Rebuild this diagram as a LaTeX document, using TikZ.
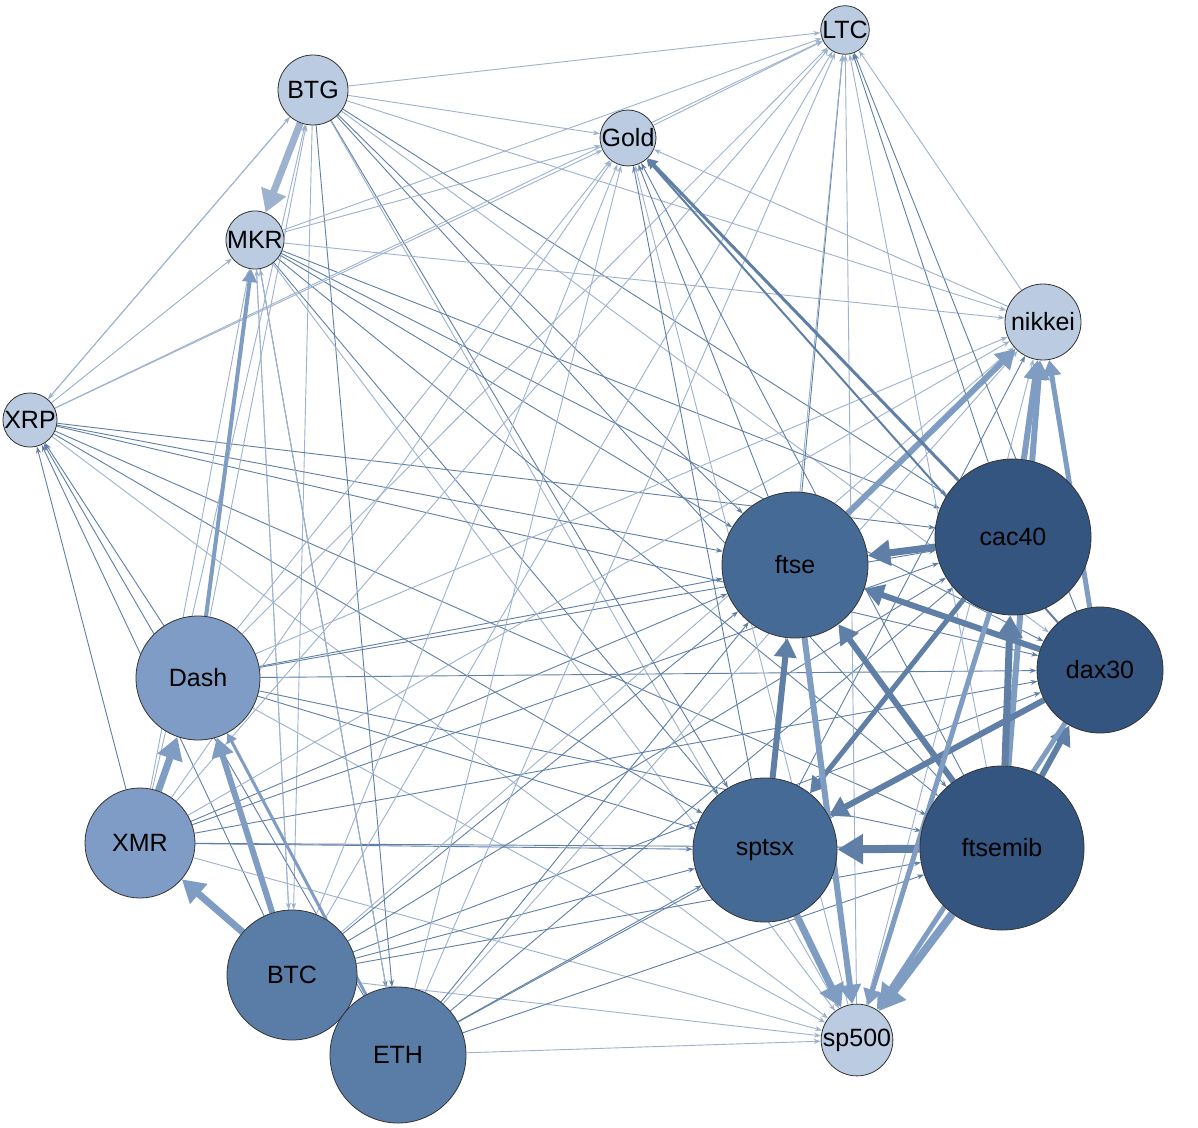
\documentclass[tikz,border=0pt]{standalone}
\usepackage{fontspec}
\setmainfont{Liberation Sans}
\usetikzlibrary{arrows.meta}
\pgfdeclarelayer{bg}\pgfsetlayers{bg,main}
\begin{document}
\begin{tikzpicture}[x=1pt,y=-1pt,
  nd/.style={circle,draw=black!80,line width=0.8pt,inner sep=0pt,font=\fontsize{25}{27}\selectfont},
  sm/.style={nd,fill=smc},
  thin/.style={-{Stealth[length=7pt,width=5pt]},line width=0.9pt}]
\definecolor{smc}{HTML}{BACBE2}
\definecolor{mdc}{HTML}{7E9CC6}
\definecolor{btc}{HTML}{5A7DA8}
\definecolor{ftc}{HTML}{456A95}
\definecolor{dkc}{HTML}{33557F}
\definecolor{e1}{HTML}{9DB2CE}
\definecolor{e2}{HTML}{5F7FA6}
\definecolor{e3}{HTML}{7F9CC2}
\useasboundingbox (0,0) rectangle (1198,1127);
\node[sm,minimum size=30] (LTC) at (845,30) {LTC};
\node[sm,minimum size=70] (BTG) at (313,90) {BTG};
\node[sm,minimum size=40] (Gold) at (628,138) {Gold};
\node[sm,minimum size=56] (MKR) at (255,240) {MKR};
\node[sm,minimum size=76] (nikkei) at (1043,322) {nikkei};
\node[sm,minimum size=40] (XRP) at (30,420) {XRP};
\node[nd,fill=dkc,minimum size=156] (cac40) at (1013,537) {cac40};
\node[nd,fill=ftc,minimum size=146] (ftse) at (795,565) {ftse};
\node[nd,fill=dkc,minimum size=126] (dax30) at (1100,670) {dax30};
\node[nd,fill=mdc,minimum size=124] (Dash) at (198,678) {Dash};
\node[nd,fill=ftc,minimum size=144] (sptsx) at (765,850) {sptsx};
\node[nd,fill=dkc,minimum size=164] (ftsemib) at (1002,848) {ftsemib};
\node[nd,fill=mdc,minimum size=110] (XMR) at (140,843) {XMR};
\node[nd,fill=btc,minimum size=130] (BTC) at (292,975) {BTC};
\node[nd,fill=btc,minimum size=136] (ETH) at (398,1055) {ETH};
\node[sm,minimum size=50] (sp500) at (857,1040) {sp500};
\begin{pgfonlayer}{bg}
\fill[white] (0,0) rectangle (1198,1127);
\foreach \a/\b/\c in {
 BTG/LTC/e1,BTG/Gold/e1,BTG/nikkei/e1,BTG/ftse/e2,BTG/cac40/e2,BTG/sptsx/e2,BTG/ftsemib/e2,BTG/dax30/e1,BTG/sp500/e1,BTG/ETH/e2,BTG/BTC/e1,BTG/XRP/e1,
 MKR/LTC/e1,MKR/Gold/e1,MKR/nikkei/e1,MKR/ftse/e2,MKR/cac40/e2,MKR/sptsx/e2,MKR/ftsemib/e2,MKR/sp500/e1,MKR/ETH/e2,MKR/BTC/e1,MKR/dax30/e2,
 XRP/MKR/e1,XRP/ftse/e2,XRP/cac40/e2,XRP/dax30/e2,XRP/sptsx/e2,XRP/ftsemib/e2,XRP/sp500/e1,XRP/LTC/e1,XRP/Gold/e1,XRP/BTG/e1,XMR/XRP/e2,BTC/XRP/e2,ETH/XRP/e2,Dash/XRP/e2,
 Dash/LTC/e1,Dash/Gold/e1,Dash/nikkei/e1,Dash/ftse/e2,Dash/cac40/e2,Dash/dax30/e2,Dash/sptsx/e2,Dash/ftsemib/e2,Dash/sp500/e1,Dash/BTG/e1,
 XMR/LTC/e1,XMR/Gold/e1,XMR/nikkei/e1,XMR/ftse/e2,XMR/cac40/e2,XMR/dax30/e2,XMR/sptsx/e2,XMR/ftsemib/e2,XMR/sp500/e1,XMR/BTG/e1,XMR/MKR/e1,
 BTC/LTC/e1,BTC/Gold/e1,BTC/nikkei/e1,BTC/ftse/e2,BTC/cac40/e2,BTC/dax30/e2,BTC/sptsx/e2,BTC/ftsemib/e2,BTC/sp500/e1,BTC/MKR/e1,
 ETH/LTC/e1,ETH/Gold/e1,ETH/nikkei/e1,ETH/ftse/e2,ETH/cac40/e2,ETH/dax30/e2,ETH/sptsx/e2,ETH/ftsemib/e2,ETH/sp500/e1,ETH/MKR/e1,
 ftse/LTC/e2,ftse/Gold/e2,cac40/LTC/e2,dax30/LTC/e2,sptsx/LTC/e1,sptsx/Gold/e2,ftsemib/LTC/e1,ftsemib/Gold/e2,nikkei/LTC/e1,nikkei/Gold/e1,sp500/LTC/e1,sp500/Gold/e1,Gold/LTC/e1,sptsx/nikkei/e2,sp500/nikkei/e1}
 \draw[thin,draw=\c] (\a) -- (\b);
\foreach \a/\b/\w/\c in {
 BTG/MKR/7/e1, Dash/MKR/4/e3, XMR/Dash/7/e3, BTC/Dash/6/e3, BTC/XMR/7/e3, ETH/Dash/3/e3,
 ftse/nikkei/6/e3, cac40/nikkei/6/e3, dax30/nikkei/5/e3, ftsemib/nikkei/6/e3,
 cac40/ftse/7/e2, dax30/ftse/6/e2, ftsemib/ftse/6/e2, ftsemib/cac40/7/e2, ftsemib/dax30/6/e2,
 ftsemib/sptsx/8/e2, dax30/sptsx/6/e2, cac40/sptsx/5/e2, sptsx/ftse/6/e2,
 ftse/sp500/6/e3, sptsx/sp500/7/e3, ftsemib/sp500/8/e3, cac40/sp500/5/e3, dax30/sp500/5/e3,
 cac40/Gold/3/e2, dax30/Gold/2/e2}
 \draw[-{Triangle[length=3.2*\w pt,width=3.6*\w pt]},line width=\w pt,draw=\c] (\a) -- (\b);
\end{pgfonlayer}
\end{tikzpicture}
\end{document}
